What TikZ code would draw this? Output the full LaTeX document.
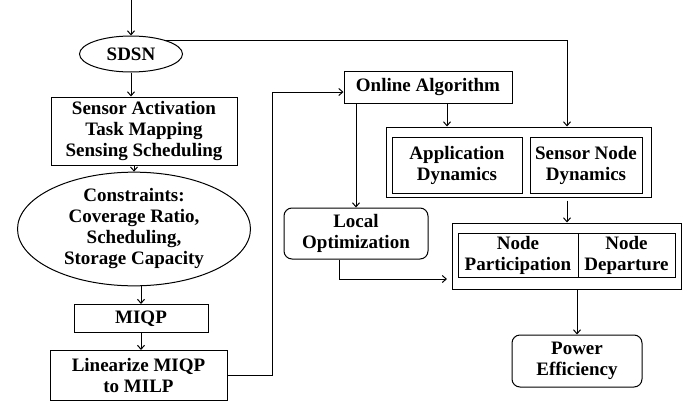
\documentclass[tikz,border=0pt]{standalone}
\usepackage{fontspec}
\setmainfont{Liberation Serif}
\usetikzlibrary{shapes.geometric,arrows.meta,positioning}
\begin{document}
\begin{tikzpicture}[x=1pt,y=-1pt,
  line width=1pt,
  >={Straight Barb[length=4pt,width=7pt]},
  txt/.style={font=\fontsize{19}{21}\selectfont\bfseries, align=center, inner sep=0pt},
  box/.style={txt, draw, rectangle, minimum width=#1},
  rbox/.style={txt, draw, rectangle, rounded corners=8pt},
  ell/.style={txt, draw, ellipse},
  frame/.style={draw, rectangle, inner sep=0pt}]
\useasboundingbox (0,0) rectangle (686,402);
\coordinate (top) at (131,0);
\node[ell, minimum width=103pt, minimum height=36pt] (sdsn) at (131,54) {SDSN};
\node[box=186pt, minimum height=68pt] (act) at (144,131) {Sensor Activation\\Task Mapping\\Sensing Scheduling};
\node[ell, minimum width=233pt, minimum height=84pt] (cons) at (134,229) {Constraints:\\Coverage Ratio,\\Scheduling,\\Storage Capacity};
\node[box=134pt, minimum height=28pt] (miqp) at (141,318.5) {MIQP};
\node[box=177pt, minimum height=50pt] (lin) at (138.5,375.5) {Linearize MIQP\\to MILP};
\node[box=168pt, minimum height=32pt] (online) at (428,87) {Online Algorithm};
\node[frame, minimum width=265pt, minimum height=70pt] (dyn) at (518.5,162) {};
\node[box=130pt, minimum height=56pt] (app) at (457,165) {Application\\Dynamics};
\node[box=112pt, minimum height=56pt] (snd) at (586,165) {Sensor Node\\Dynamics};
\node[rbox, minimum width=144pt, minimum height=51pt] (local) at (356,233.5) {Local\\Optimization};
\node[frame, minimum width=229pt, minimum height=66pt] (part) at (566.5,256) {};
\node[box=120pt, minimum height=44pt] (np) at (518,255) {Node\\Participation};
\node[box=97pt, minimum height=44pt] (nd) at (626.5,255) {Node\\Departure};
\node[rbox, minimum width=130pt, minimum height=52pt] (power) at (577,361) {Power\\Efficiency};
\coordinate (sndout) at ([xshift=-19pt, yshift=-7pt]snd.south);
\coordinate (locout) at ([xshift=-17pt]local.south);
\coordinate (locend) at (447,279);
\draw[->] (top) -- (sdsn.north);
\draw[->] (sdsn.south) -- (sdsn.south |- act.north);
\draw[->] (cons.north |- act.south) -- (cons.north);
\draw[->] (miqp.north |- cons.south) -- (miqp.north);
\draw[->] (miqp.south) -- (miqp.south |- lin.north);
\draw[->] (lin.east) -- ++(45,0) |- ([yshift=-5pt]online.west);
\draw[->] (sdsn.22) -| (sndout |- dyn.north);
\draw[->] ([xshift=19pt]online.south) -- ([xshift=19pt]online.south |- dyn.north);
\draw[->] (local.north |- online.south) -- (local.north);
\draw[->] (sndout) -- (sndout |- part.north);
\draw[->] (locout) |- (locend);
\draw[->] (part.south -| power.north) -- (power.north);
\end{tikzpicture}
\end{document}
